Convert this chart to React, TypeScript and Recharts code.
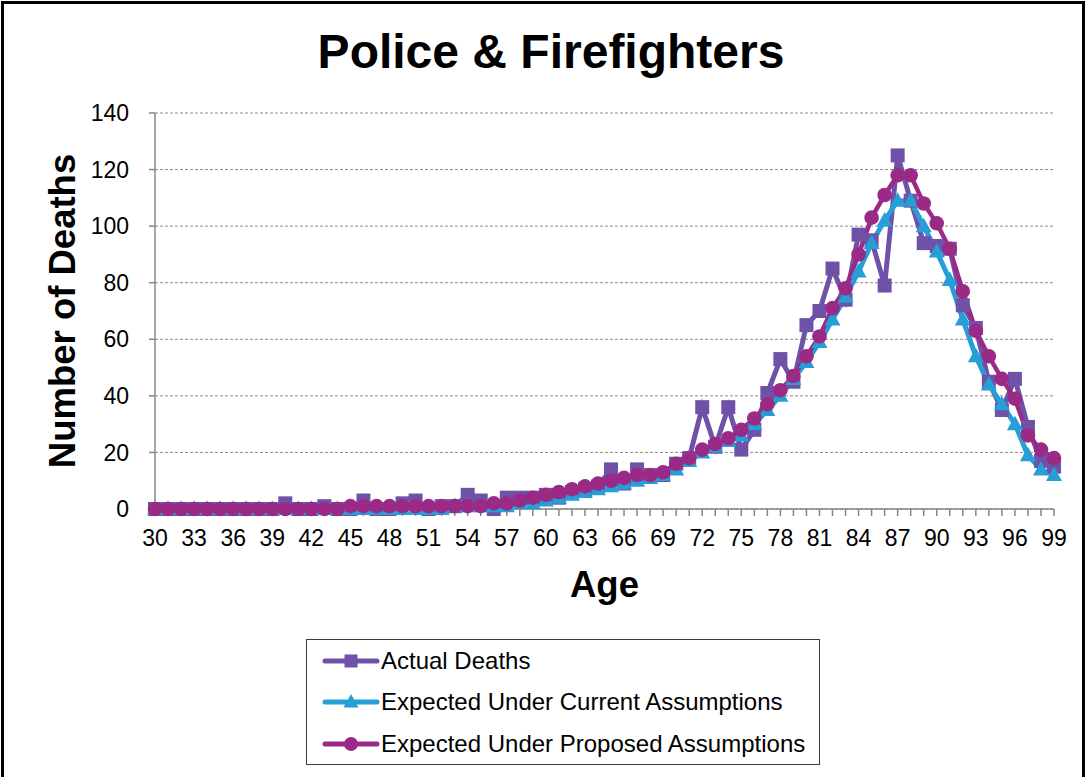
import { LineChart, Line, XAxis, YAxis, CartesianGrid } from "recharts";

const ages = [
  30, 31, 32, 33, 34, 35, 36, 37, 38, 39, 40, 41, 42, 43, 44, 45, 46, 47, 48, 49,
  50, 51, 52, 53, 54, 55, 56, 57, 58, 59, 60, 61, 62, 63, 64, 65, 66, 67, 68, 69,
  70, 71, 72, 73, 74, 75, 76, 77, 78, 79, 80, 81, 82, 83, 84, 85, 86, 87, 88, 89,
  90, 91, 92, 93, 94, 95, 96, 97, 98, 99,
];

const actualDeaths = [
  0, 0, 0, 0, 0, 0, 0, 0, 0, 0, 2, 0, 0, 1, 0, 0, 3, 0, 0, 2,
  3, 0, 1, 1, 5, 3, 0, 4, 4, 4, 5, 4, 6, 7, 8, 14, 9, 14, 12, 12,
  16, 18, 36, 22, 36, 21, 28, 41, 53, 45, 65, 70, 85, 74, 97, 95, 79, 125, 109, 94,
  93, 92, 72, 64, 45, 35, 46, 29, 17, 15,
];

const expectedCurrent = [
  0, 0, 0, 0, 0, 0, 0, 0, 0, 0, 0, 0, 0, 0, 0, 0, 0, 0, 0, 0,
  0, 0, 0, 1, 1, 1, 1, 1, 2, 2, 3, 4, 5, 6, 7, 8, 9, 10, 11, 12,
  14, 17, 20, 22, 24, 26, 30, 35, 40, 46, 52, 59, 67, 75, 84, 94, 102, 109, 109, 100,
  91, 81, 67, 54, 44, 37, 30, 19, 14, 12,
];

const expectedProposed = [
  0, 0, 0, 0, 0, 0, 0, 0, 0, 0, 0, 0, 0, 0, 0, 1, 1, 1, 1, 1,
  1, 1, 1, 1, 1, 1, 2, 2, 3, 4, 5, 6, 7, 8, 9, 10, 11, 12, 12, 13,
  16, 18, 21, 23, 25, 28, 32, 37, 42, 47, 54, 61, 71, 78, 90, 103, 111, 118, 118, 108,
  101, 92, 77, 63, 54, 46, 39, 26, 21, 18,
];

const yTicks = [0, 20, 40, 60, 80, 100, 120, 140];

const PURPLE = "#6f52a8";
const BLUE = "#279ed6";
const MAGENTA = "#9a2a86";
const FONT = "'Liberation Sans', Arial, sans-serif";

const data = ages.map((age, i) => ({
  age,
  actual: actualDeaths[i],
  current: expectedCurrent[i],
  proposed: expectedProposed[i],
}));

function SquareDot(props: any) {
  const { cx, cy, index } = props;
  if (cx == null || cy == null) return null;
  return <rect key={`sq-${index}`} x={cx - 7} y={cy - 7} width={14} height={14} fill={PURPLE} />;
}

function TriangleDot(props: any) {
  const { cx, cy, index } = props;
  if (cx == null || cy == null) return null;
  return (
    <polygon
      key={`tr-${index}`}
      points={`${cx},${cy - 8.5} ${cx - 8},${cy + 6} ${cx + 8},${cy + 6}`}
      fill={BLUE}
    />
  );
}

function CircleDot(props: any) {
  const { cx, cy, index } = props;
  if (cx == null || cy == null) return null;
  return <circle key={`ci-${index}`} cx={cx} cy={cy} r={7.3} fill={MAGENTA} />;
}

// only every third age gets a label, but every category keeps its tick mark
function AgeTick(props: any) {
  const { x, y, payload } = props;
  if ((Number(payload.value) - 30) % 3 !== 0) return null;
  return (
    <text x={x} y={y} dy="0.71em" textAnchor="middle" fontSize={23} fill="#000" fontFamily={FONT}>
      {payload.value}
    </text>
  );
}

function YTitle(props: any) {
  const vb = props.viewBox || { y: 113, height: 396 };
  const cy = vb.y + vb.height / 2;
  return (
    <text
      x={62}
      y={cy}
      transform={`rotate(-90 62 ${cy})`}
      textAnchor="middle"
      dominantBaseline="central"
      fontSize={36.5}
      fontWeight="bold"
      fill="#000"
      fontFamily={FONT}
    >
      Number of Deaths
    </text>
  );
}

function XTitle(props: any) {
  const vb = props.viewBox || { x: 155, width: 899 };
  const cx = vb.x + vb.width / 2;
  return (
    <text x={cx} y={597} textAnchor="middle" fontSize={36.5} fontWeight="bold" fill="#000" fontFamily={FONT}>
      Age
    </text>
  );
}

const legendItems = [
  { name: "Actual Deaths", color: PURPLE, shape: "square" },
  { name: "Expected Under Current Assumptions", color: BLUE, shape: "triangle" },
  { name: "Expected Under Proposed Assumptions", color: MAGENTA, shape: "circle" },
];

function LegendMarker({ color, shape }: { color: string; shape: string }) {
  return (
    <svg width={58} height={20} style={{ display: "block" }}>
      <line x1={3} y1={10} x2={55} y2={10} stroke={color} strokeWidth={5} strokeLinecap="round" />
      {shape === "square" && <rect x={22.5} y={3.5} width={13} height={13} fill={color} />}
      {shape === "triangle" && <polygon points="29,2 21.5,15.5 36.5,15.5" fill={color} />}
      {shape === "circle" && <circle cx={29} cy={10} r={7} fill={color} />}
    </svg>
  );
}

export default function App() {
  return (
    <div
      style={{
        position: "absolute",
        left: 0,
        top: 0,
        width: 1087,
        height: 777,
        background: "#fff",
        overflow: "hidden",
        fontFamily: FONT,
      }}
    >
      <div
        style={{
          position: "absolute",
          left: 1,
          top: 1,
          width: 1078,
          height: 800,
          border: "3px solid #000",
        }}
      />
      <div
        style={{
          position: "absolute",
          left: 0,
          top: 28,
          width: 1102,
          textAlign: "center",
          fontSize: 48,
          lineHeight: 1,
          fontWeight: "bold",
          color: "#000",
        }}
      >
        Police &amp; Firefighters
      </div>

      <div style={{ position: "absolute", left: 0, top: 0 }}>
        <LineChart
          width={1087}
          height={777}
          data={data}
          margin={{ top: 113, right: 33, bottom: 168, left: 0 }}
        >
          <CartesianGrid
            vertical={false}
            stroke="#8c8c8c"
            strokeDasharray="3 2"
          />
          <XAxis
            dataKey="age"
            interval={0}
            height={100}
            tick={<AgeTick />}
            tickSize={7}
            tickMargin={14}
            axisLine={{ stroke: "#868686", strokeWidth: 1.5 }}
            tickLine={{ stroke: "#868686", strokeWidth: 1.5 }}
            label={XTitle}
          />
          <YAxis
            domain={[0, 140]}
            ticks={yTicks}
            width={155}
            tickSize={6}
            tickMargin={20}
            tick={{ fill: "#000", fontSize: 23, fontFamily: FONT }}
            axisLine={{ stroke: "#868686", strokeWidth: 1.5 }}
            tickLine={{ stroke: "#868686", strokeWidth: 1.5 }}
            label={YTitle}
          />
          <Line
            dataKey="actual"
            stroke={PURPLE}
            strokeWidth={5}
            dot={SquareDot}
            activeDot={false}
            isAnimationActive={false}
          />
          <Line
            dataKey="current"
            stroke={BLUE}
            strokeWidth={5}
            dot={TriangleDot}
            activeDot={false}
            isAnimationActive={false}
          />
          <Line
            dataKey="proposed"
            stroke={MAGENTA}
            strokeWidth={4.5}
            dot={CircleDot}
            activeDot={false}
            isAnimationActive={false}
          />
        </LineChart>
      </div>

      <div
        style={{
          position: "absolute",
          left: 306,
          top: 639,
          width: 514,
          height: 126,
          border: "1.5px solid #3a3a3a",
          boxSizing: "border-box",
        }}
      >
        {legendItems.map((item) => (
          <div
            key={item.name}
            style={{ display: "flex", alignItems: "center", height: 41.5, paddingLeft: 15 }}
          >
            <LegendMarker color={item.color} shape={item.shape} />
            <span style={{ fontSize: 24, color: "#000", marginLeft: 1, whiteSpace: "nowrap" }}>
              {item.name}
            </span>
          </div>
        ))}
      </div>
    </div>
  );
}
